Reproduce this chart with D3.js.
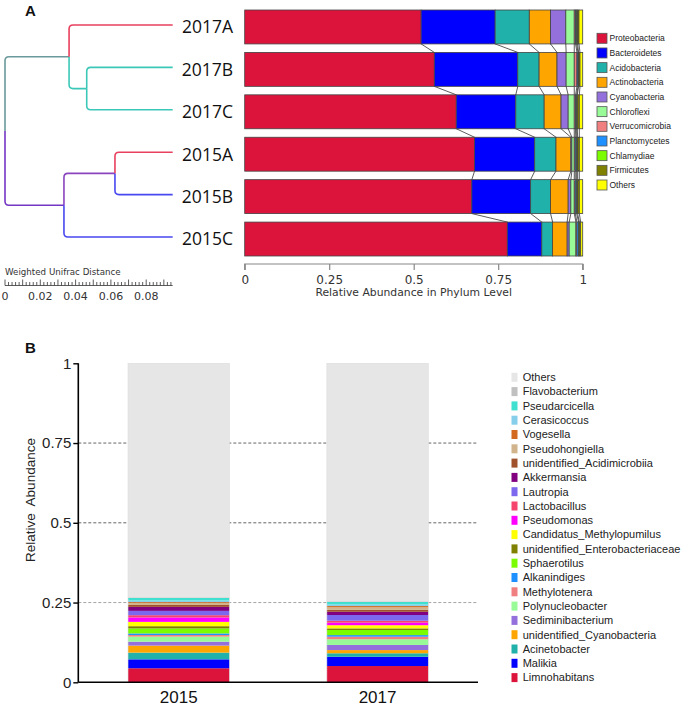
<!DOCTYPE html>
<html><head><meta charset="utf-8">
<script src="https://cdn.jsdelivr.net/npm/d3@7"></script>
<style>body{margin:0;background:#fff}</style>
</head><body>
<svg id="c" width="685" height="712" xmlns="http://www.w3.org/2000/svg"></svg>
<script>
// ---------- Panel A data ----------
const samples = ["2017A","2017B","2017C","2015A","2015B","2015C"];
const phyla = ["Proteobacteria","Bacteroidetes","Acidobacteria","Actinobacteria","Cyanobacteria","Chloroflexi","Verrucomicrobia","Planctomycetes","Chlamydiae","Firmicutes","Others"];
const phylumColors = ["#DC143C","#0000FF","#20B2AA","#FFA500","#9370DB","#98FB98","#F08080","#1E90FF","#7CFC00","#808000","#FFFF00"];
const ab2017A = [0.522,0.219,0.101,0.063,0.045,0.025,0.004,0.003,0.003,0.004,0.011];
const ab2017B = [0.561,0.247,0.063,0.053,0.027,0.024,0.008,0.003,0.002,0.004,0.008];
const ab2017C = [0.626,0.176,0.084,0.050,0.021,0.018,0.004,0.003,0.002,0.006,0.010];
const ab2015A = [0.680,0.178,0.063,0.044,0.003,0.007,0.003,0.004,0.003,0.005,0.010];
const ab2015B = [0.672,0.174,0.059,0.052,0.008,0.010,0.003,0.004,0.003,0.005,0.010];
const ab2015C = [0.777,0.102,0.032,0.043,0.006,0.020,0.003,0.005,0.002,0.004,0.006];
const phylumTicks = [0, 0.25, 0.5, 0.75, 1];

// dendrogram
const treeIds     = ["root","n17","n17BC","n15","n15AB","2017A","2017B","2017C","2015A","2015B","2015C"];
const treeParents = ["","root","n17","root","n15","n17","n17BC","n17BC","n15AB","n15AB","n15"];
const treeDist    = [0,0.0363,0.0463,0.0334,0.0623,0.095,0.095,0.095,0.095,0.095,0.095];
const treeColors  = ["#6A9A9C","#6A9A9C","#3CC8B8","#7436C4","#8A44BE","#E8405E","#3CC8B8","#3CC8B8","#E8405E","#4848F0","#4848F0"];
const distTicks = [0, 0.02, 0.04, 0.06, 0.08];

// ---------- Panel B data ----------
const genera = ["Limnohabitans","Malikia","Acinetobacter","unidentified_Cyanobacteria","Sediminibacterium","Polynucleobacter","Methylotenera","Alkanindiges","Sphaerotilus","unidentified_Enterobacteriaceae","Candidatus_Methylopumilus","Pseudomonas","Lactobacillus","Lautropia","Akkermansia","unidentified_Acidimicrobiia","Pseudohongiella","Vogesella","Cerasicoccus","Pseudarcicella","Flavobacterium","Others"];
const genusColors = ["#DC143C","#0000FF","#20B2AA","#FFA500","#9370DB","#98FB98","#F08080","#1E90FF","#7CFC00","#808000","#FFFF00","#FF00FF","#F5456E","#7B68EE","#800080","#A0522D","#D2B48C","#D2691E","#87CEEB","#40E0D0","#C0C0C0","#E6E6E6"];
const years = ["2015","2017"];
const gen2015 = [0.044,0.028,0.021,0.022,0.0125,0.0157,0.005,0.005,0.0157,0.007,0.0135,0.014,0.007,0.0135,0.0125,0.006,0.006,0.003,0.005,0.008,0.002,0.7336];
const gen2017 = [0.051,0.029,0.011,0.010,0.016,0.018,0.008,0.005,0.016,0.005,0.010,0.008,0.006,0.018,0.010,0.006,0.008,0.004,0.005,0.008,0.002,0.746];
const yTicksB = [0, 0.25, 0.5, 0.75, 1];

const svg = d3.select("#c");
const FA = "DejaVu Sans, Verdana, sans-serif";
const FB = "Liberation Sans, Arial, sans-serif";

// ================= Panel A =================
svg.append("text").attr("x",25).attr("y",15.5).text("A")
  .attr("font-family",FB).attr("font-weight","bold").attr("font-size",15).attr("fill","#111");

const abund = [ab2017A,ab2017B,ab2017C,ab2015A,ab2015B,ab2015C];
const xA = d3.scaleLinear().domain([0,1]).range([244.7,582.7]);
const yA = d3.scaleBand().domain(samples).range([10,256]).paddingInner(0.2).paddingOuter(0);

const cum = abund.map(a => { let s=0; return a.map(v => { const r=[s,s+v]; s+=v; return r; }); });

// connecting lines
const gLinks = svg.append("g");
for (let i=0;i<samples.length-1;i++){
  for (let k=0;k<phyla.length-1;k++){
    gLinks.append("line")
      .attr("x1", xA(cum[i][k][1])).attr("y1", yA(samples[i])+yA.bandwidth())
      .attr("x2", xA(cum[i+1][k][1])).attr("y2", yA(samples[i+1]))
      .attr("stroke","#333").attr("stroke-width",0.8);
  }
}
// bars
samples.forEach((s,i)=>{
  const g = svg.append("g");
  cum[i].forEach((c,k)=>{
    g.append("rect").attr("x",xA(c[0])).attr("y",yA(s))
      .attr("width",Math.max(0,xA(c[1])-xA(c[0]))).attr("height",yA.bandwidth())
      .attr("fill",phylumColors[k]).attr("stroke","#444").attr("stroke-width",0.8);
  });
});
// axis
const axA = svg.append("g").attr("transform","translate(0,264)")
  .call(d3.axisBottom(xA).tickValues(phylumTicks).tickSize(6).tickFormat(d=>String(d)));
axA.select(".domain").attr("stroke","#888").attr("stroke-width",1.2).attr("d","M244.7,6V0H582.7V6");
axA.selectAll(".tick line").attr("stroke","#888").attr("stroke-width",1.2);
axA.selectAll(".tick text").attr("font-family",FA).attr("font-size",12).attr("fill","#333").attr("dy","0.9em");
svg.append("text").attr("x",(xA(0)+xA(1))/2).attr("y",296).attr("text-anchor","middle")
  .attr("font-family",FA).attr("font-size",10.8).attr("fill","#333").text("Relative Abundance in Phylum Level");

// legend A
const legA = svg.append("g");
phyla.forEach((p,k)=>{
  const cy = 38.3 + k*14.67;
  legA.append("rect").attr("x",597).attr("y",cy-5).attr("width",10).attr("height",10)
    .attr("fill",phylumColors[k]).attr("stroke","#555").attr("stroke-width",0.8);
  legA.append("text").attr("x",609.5).attr("y",cy).attr("dy","0.35em")
    .attr("font-family",FB).attr("font-size",8.5).attr("fill","#222").text(p);
});

// dendrogram
const xT = d3.scaleLinear().domain([0,0.1]).range([5,5+176.5]);
const tbl = treeIds.map((id,i)=>({id, parent: treeParents[i]||null, dist: treeDist[i], color: treeColors[i]}));
const root = d3.stratify().id(d=>d.id).parentId(d=>d.parent)(tbl);
root.eachAfter(n=>{
  n.px = xT(n.data.dist);
  if (!n.children) n.py = yA(n.data.id) + yA.bandwidth()/2 - 2;
  else n.py = d3.mean(n.children, c=>c.py);
});
const gT = svg.append("g").attr("fill","none").attr("stroke-width",1.6);
const r = 4;
root.descendants().forEach(n=>{
  if (!n.parent) return;
  const p = n.parent;
  const sgn = n.py > p.py ? 1 : -1;
  const path = `M${p.px},${p.py}V${n.py - sgn*r}Q${p.px},${n.py} ${p.px+r},${n.py}H${n.px}`;
  gT.append("path").attr("d",path).attr("stroke",n.data.color);
});
// leaf labels
root.leaves().forEach(l=>{
  svg.append("text").attr("x",233).attr("y",yA(l.data.id)+yA.bandwidth()/2).attr("dy","0.36em")
    .attr("text-anchor","end").attr("font-family","Open Sans, sans-serif").attr("font-size",17.5)
    .attr("fill","#111").text(l.data.id);
});
// distance ruler
svg.append("text").attr("x",5).attr("y",275).attr("font-family",FA).attr("font-size",8.7)
  .attr("fill","#333").text("Weighted Unifrac Distance");
const gR = svg.append("g").attr("stroke","#333").attr("stroke-width",0.8);
gR.append("line").attr("x1",xT(0)).attr("x2",xT(0.095)).attr("y1",285.5).attr("y2",285.5);
d3.range(0,0.0951,0.002).forEach((d,i)=>{
  const major = i%5===0;
  gR.append("line").attr("x1",xT(d)).attr("x2",xT(d)).attr("y1",285.5).attr("y2",major?279.5:282);
});
distTicks.forEach(d=>{
  svg.append("text").attr("x",xT(d)).attr("y",299.5).attr("text-anchor","middle")
    .attr("font-family",FA).attr("font-size",11).attr("fill","#333").text(String(d));
});

// ================= Panel B =================
svg.append("text").attr("x",25).attr("y",353).text("B")
  .attr("font-family",FB).attr("font-weight","bold").attr("font-size",15).attr("fill","#111");

const yB = d3.scaleLinear().domain([0,1]).range([682.3,363.3]);
const xB = d3.scaleBand().domain(years).range([78.3,478]).paddingInner(0.49).paddingOuter(0.25);

// grid lines (behind bars)
[0.25,0.5,0.75].forEach(t=>{
  svg.append("line").attr("x1",78.3).attr("x2",478).attr("y1",yB(t)).attr("y2",yB(t))
    .attr("stroke", t===0.25 ? "#9a9a9a" : "#555").attr("stroke-width",0.9).attr("stroke-dasharray","3,2");
});
// bars
const genAb = [gen2015, gen2017];
years.forEach((yr,i)=>{
  let s = 0;
  const g = svg.append("g");
  genAb[i].forEach((v,k)=>{
    g.append("rect").attr("x",xB(yr)).attr("width",xB.bandwidth())
      .attr("y",yB(s+v)).attr("height",yB(s)-yB(s+v)).attr("fill",genusColors[k]);
    s += v;
  });
  g.append("rect").attr("x",xB(yr)).attr("width",xB.bandwidth()).attr("y",yB(1)).attr("height",yB(0)-yB(1))
    .attr("fill","none").attr("stroke","#dcdcdc").attr("stroke-width",0.6);
});
// y axis
const axB = svg.append("g").attr("transform","translate(78.3,0)")
  .call(d3.axisLeft(yB).tickValues(yTicksB).tickSize(5).tickFormat(d=>String(d)));
axB.select(".domain").attr("stroke","#000").attr("stroke-width",1.6).attr("d","M0,363.3V682.3");
axB.selectAll(".tick line").attr("stroke","#000").attr("stroke-width",1.4);
axB.selectAll(".tick text").attr("font-family",FB).attr("font-size",15).attr("fill","#222").attr("x",-7);
// x axis line
svg.append("line").attr("x1",78.3).attr("x2",478).attr("y1",682.3).attr("y2",682.3)
  .attr("stroke","#000").attr("stroke-width",1.6);
years.forEach(yr=>{
  svg.append("text").attr("x",xB(yr)+xB.bandwidth()/2).attr("y",697).attr("dy","0.35em")
    .attr("text-anchor","middle").attr("font-family",FB).attr("font-size",17).attr("fill","#111").text(yr);
});
svg.append("text").attr("transform","translate(35,500) rotate(-90)").attr("text-anchor","middle")
  .attr("font-family",FB).attr("font-size",13.5).attr("fill","#222").attr("xml:space","preserve")
  .style("white-space","pre").text("Relative  Abundance");

// legend B (reverse order)
const legB = svg.append("g");
genera.slice().reverse().forEach((gname,j)=>{
  const k = genera.length-1-j;
  const cy = 377.3 + j*14.3;
  legB.append("rect").attr("x",511.5).attr("y",cy-4.5).attr("width",6).attr("height",9).attr("fill",genusColors[k]);
  legB.append("text").attr("x",522.7).attr("y",cy).attr("dy","0.35em")
    .attr("font-family",FB).attr("font-size",11).attr("fill","#222").text(gname);
});
</script>
</body></html>
